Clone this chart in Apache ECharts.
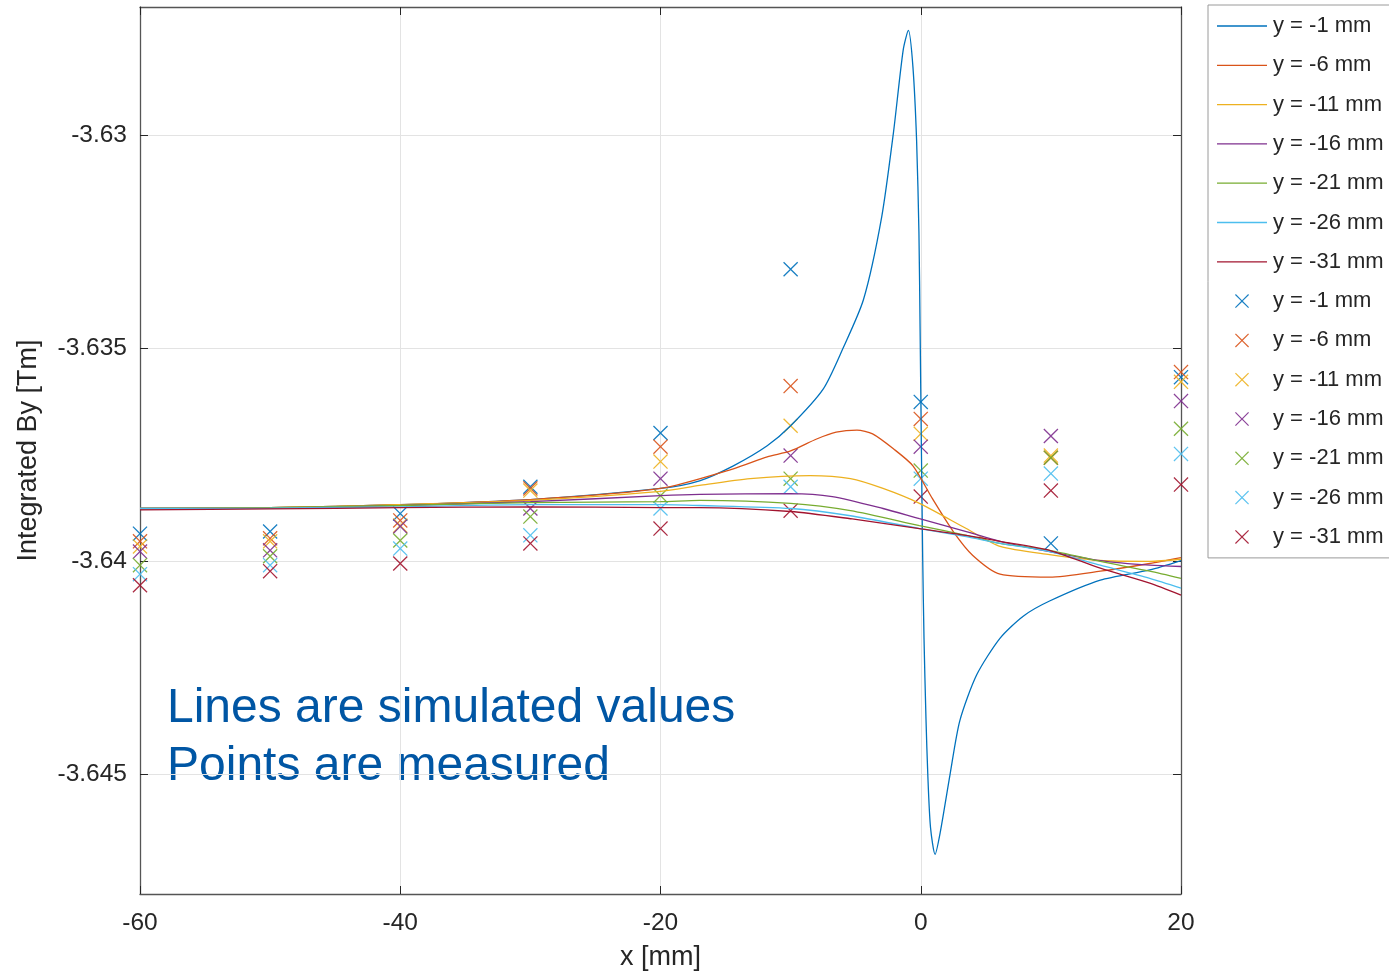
<!DOCTYPE html>
<html>
<head>
<meta charset="utf-8">
<title>Integrated By</title>
<script src="https://cdn.jsdelivr.net/npm/echarts@6/dist/echarts.min.js"></script>
<style>
  html, body { margin: 0; padding: 0; background: #fff; }
  #main { width: 1389px; height: 976px; }
</style>
</head>
<body>
<div id="main"></div>
<script>
  // legend names, same text for simulated lines and measured points
  var names = ['y = -1 mm', 'y = -6 mm', 'y = -11 mm', 'y = -16 mm', 'y = -21 mm', 'y = -26 mm', 'y = -31 mm'];
  var colors = ['#0072BD', '#D95319', '#EDB120', '#7E2F8E', '#77AC30', '#4DBEEE', '#A2142F'];
  var yTicks = [-3.645, -3.64, -3.635, -3.63];

  // measured points
  var measX = [-60, -50, -40, -30, -20, -10, 0, 10, 20];
  var meas1 = [-3.63935, -3.6393, -3.63888, -3.63825, -3.63699, -3.63315, -3.63626, -3.63958, -3.63568];
  var meas2 = [-3.63953, -3.63946, -3.63904, -3.63829, -3.63731, -3.63589, -3.63666, -3.63757, -3.63556];
  var meas3 = [-3.63965, -3.63953, -3.63916, -3.63834, -3.63766, -3.63682, -3.63701, -3.63752, -3.63579];
  var meas4 = [-3.63977, -3.63974, -3.63918, -3.63876, -3.63806, -3.63752, -3.63731, -3.63706, -3.63624];
  var meas5 = [-3.64009, -3.63988, -3.63951, -3.63895, -3.63846, -3.63806, -3.63787, -3.63757, -3.63689];
  var meas6 = [-3.6403, -3.64009, -3.6397, -3.63939, -3.63876, -3.63825, -3.63806, -3.63794, -3.63748];
  var meas7 = [-3.64056, -3.64023, -3.64005, -3.63958, -3.63923, -3.63881, -3.63848, -3.63834, -3.6382];

  // simulated curves [x, By]
  var sim1 = [[-60,-3.63876],[-50,-3.63874],[-40,-3.63867],[-30,-3.63855],[-20,-3.63829],[-17,-3.63811],[-14.4,-3.63776],[-11.8,-3.63729],[-10,-3.63682],[-7.5,-3.63596],[-6,-3.63502],[-4.4,-3.63386],[-3,-3.63192],[-2.1,-3.62995],[-1.35,-3.62801],[-0.95,-3.62755],[-0.6,-3.62841],[-0.32,-3.63012],[-0.14,-3.63229],[-0.05,-3.63456],[0.05,-3.63736],[0.15,-3.63993],[0.25,-3.6418],[0.4,-3.64367],[0.55,-3.64507],[0.75,-3.64624],[1.1,-3.64687],[1.5,-3.64635],[2.25,-3.645],[3,-3.64374],[4.3,-3.64266],[6.1,-3.6418],[7.9,-3.64128],[9.9,-3.64093],[13.8,-3.64044],[17.6,-3.6402],[20,-3.63998]];
  var sim2 = [[-60,-3.63876],[-50,-3.63874],[-40,-3.63867],[-30,-3.63855],[-20,-3.63829],[-14.4,-3.63783],[-11.8,-3.63755],[-10,-3.63741],[-8,-3.63713],[-6.5,-3.63697],[-4.9,-3.63692],[-3.7,-3.63701],[-2.1,-3.63736],[-0.6,-3.63776],[0.9,-3.63853],[2.5,-3.6393],[4,-3.63986],[6.1,-3.6403],[9.9,-3.64037],[13.8,-3.64023],[17.6,-3.64005],[20,-3.63991]];
  var sim3 = [[-60,-3.63876],[-50,-3.63874],[-40,-3.63867],[-30,-3.63857],[-20,-3.63836],[-17,-3.63822],[-13.1,-3.63806],[-8.5,-3.63799],[-5.4,-3.63806],[-2.9,-3.63829],[-0.1,-3.63864],[3.5,-3.63923],[6.1,-3.63965],[9.9,-3.63984],[13.8,-3.63998],[17.6,-3.64],[20,-3.63995]];
  var sim4 = [[-60,-3.63876],[-50,-3.63875],[-40,-3.63869],[-30,-3.6386],[-20,-3.63846],[-17,-3.63843],[-10,-3.63841],[-6.8,-3.63848],[-2.9,-3.63876],[-0.1,-3.639],[3.5,-3.6393],[6.1,-3.63953],[9.9,-3.63977],[13.8,-3.63998],[17.6,-3.64009],[20,-3.64012]];
  var sim5 = [[-60,-3.63876],[-50,-3.63874],[-40,-3.63869],[-30,-3.63862],[-20,-3.6386],[-17,-3.63857],[-10,-3.63864],[-5.4,-3.63881],[-0.1,-3.63916],[3.5,-3.63939],[6.1,-3.63958],[9.9,-3.63974],[13.8,-3.64],[17.6,-3.64023],[20,-3.6404]];
  var sim6 = [[-60,-3.63876],[-50,-3.63875],[-40,-3.63872],[-30,-3.63867],[-20,-3.63867],[-17,-3.63869],[-10,-3.63876],[-5.4,-3.63893],[-0.1,-3.63923],[3.5,-3.63942],[6.1,-3.63958],[9.9,-3.63977],[13.8,-3.64009],[17.6,-3.6404],[20,-3.64063]];
  var sim7 = [[-60,-3.63879],[-50,-3.63877],[-40,-3.63874],[-30,-3.63872],[-20,-3.63874],[-17,-3.63874],[-10,-3.63883],[-5.4,-3.639],[-0.1,-3.63923],[3.5,-3.63939],[6.1,-3.63953],[9.9,-3.63974],[13.8,-3.64016],[17.6,-3.64051],[20,-3.64079]];

  var sims = [sim1, sim2, sim3, sim4, sim5, sim6, sim7];
  var meas = [meas1, meas2, meas3, meas4, meas5, meas6, meas7];

  var fontFam = 'Liberation Sans, Arial, Helvetica, sans-serif';
  var crossIcon = 'path://M0,0.6L0.6,0L5,4.4L9.4,0L10,0.6L5.6,5L10,9.4L9.4,10L5,5.6L0.6,10L0,9.4L4.4,5Z';
  var lineIcon = 'path://M0,0H50V1.3H0Z';

  var series = [];
  sims.forEach(function (d, i) {
    series.push({
      name: names[i],
      type: 'line',
      data: d,
      symbol: 'none',
      smooth: 0.25,
      lineStyle: { color: colors[i], width: 1.3 },
      itemStyle: { color: colors[i] },
      silent: true
    });
  });
  // zero width space keeps the point entries apart from the line entries in the legend
  meas.forEach(function (d, i) {
    series.push({
      name: names[i] + '\u200b',
      type: 'scatter',
      data: measX.map(function (x, j) { return [x, d[j]]; }),
      symbol: crossIcon,
      symbolSize: 15,
      itemStyle: { color: colors[i], opacity: 0.9 },
      silent: true
    });
  });

  var legendData = names.map(function (n) { return { name: n, icon: lineIcon }; })
    .concat(names.map(function (n) { return { name: n + '\u200b' }; }));

  var myChart = echarts.init(document.getElementById('main'));
  var option = {
    backgroundColor: '#fff',
    animation: false,
    textStyle: { fontFamily: fontFam },
    grid: { left: 140, top: 7, width: 1041, height: 889 },
    legend: {
      data: legendData,
      orient: 'vertical',
      left: 1208,
      top: 5,
      padding: [10, 10, 10, 9],
      itemWidth: 50,
      itemHeight: 14,
      itemGap: 17.3,
      backgroundColor: '#fff',
      borderColor: '#9a9a9a',
      borderWidth: 1,
      borderRadius: 0,
      textStyle: { fontSize: 22, color: '#262626', fontFamily: fontFam, padding: [0, 0, 0, 1] }
    },
    xAxis: [{
      type: 'value',
      min: -60,
      max: 20,
      interval: 20,
      name: 'x [mm]',
      nameLocation: 'middle',
      nameGap: 50,
      nameTextStyle: { fontSize: 27, color: '#262626' },
      axisLine: { show: true, onZero: false, lineStyle: { color: '#555', width: 1.3 } },
      axisTick: { show: true, inside: true, length: 8, lineStyle: { color: '#262626' } },
      axisLabel: { fontSize: 24.5, color: '#262626', margin: 17 },
      splitLine: { show: true, lineStyle: { color: '#e3e3e3', width: 1 } }
    }, {
      type: 'value',
      position: 'top',
      min: -60,
      max: 20,
      interval: 20,
      axisLine: { show: true, onZero: false, lineStyle: { color: '#555', width: 1.3 } },
      axisTick: { show: true, inside: true, length: 8, lineStyle: { color: '#262626' } },
      axisLabel: { show: false },
      splitLine: { show: false }
    }],
    yAxis: [{
      type: 'value',
      min: -3.6478,
      max: -3.6270,
      name: 'Integrated By [Tm]',
      nameLocation: 'middle',
      nameGap: 98,
      nameTextStyle: { fontSize: 27, color: '#262626' },
      axisLine: { show: true, onZero: false, lineStyle: { color: '#555', width: 1.3 } },
      axisTick: { show: true, inside: true, length: 8, customValues: yTicks, lineStyle: { color: '#262626' } },
      axisLabel: { fontSize: 24.5, color: '#262626', margin: 13, customValues: yTicks },
      splitLine: { show: true, lineStyle: { color: '#e3e3e3', width: 1 } }
    }, {
      type: 'value',
      position: 'right',
      min: -3.6478,
      max: -3.6270,
      axisLine: { show: true, onZero: false, lineStyle: { color: '#555', width: 1.3 } },
      axisTick: { show: true, inside: true, length: 8, customValues: yTicks, lineStyle: { color: '#262626' } },
      axisLabel: { show: false, customValues: yTicks },
      splitLine: { show: false }
    }],
    graphic: [{
      type: 'text',
      left: 167,
      top: 685,
      style: { text: 'Lines are simulated values', font: '48px ' + fontFam, fill: '#0056A4' }
    }, {
      type: 'text',
      left: 167,
      top: 743,
      style: { text: 'Points are measured', font: '48px ' + fontFam, fill: '#0056A4' }
    }],
    series: series
  };
  myChart.setOption(option);
</script>
</body>
</html>
